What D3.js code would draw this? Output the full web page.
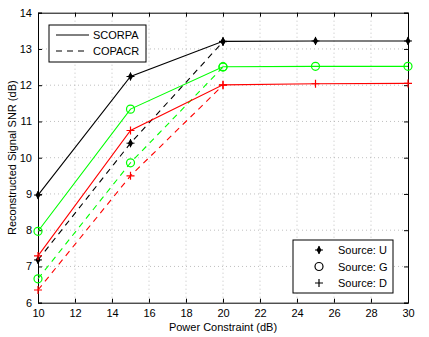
<!DOCTYPE html>
<html>
<head>
	<meta charset="utf-8">
	<title>SNR vs power constraint</title>
	<script type="text/javascript" src="https://cdn.jsdelivr.net/npm/d3@7/dist/d3.min.js"></script>
	<style>
		body { margin: 0; background: #fff; }
		text { font-family: "Liberation Sans", Arial, sans-serif; }
	</style>
</head>
<body>
<script type="text/javascript">
	var power = [10, 15, 20, 25, 30];     // x values (dB)
	var scorpaU = [8.97, 12.24, 13.21, 13.22, 13.22];
	var scorpaG = [7.97, 11.34, 12.51, 12.52, 12.52];
	var scorpaD = [7.29, 10.75, 12.01, 12.04, 12.05];
	var copacrU = [7.18, 10.40, 13.20];
	var copacrG = [6.66, 9.86, 12.50];
	var copacrD = [6.35, 9.50, 12.00];
	var xTicks = [10, 12, 14, 16, 18, 20, 22, 24, 26, 28, 30];
	var yTicks = [6, 7, 8, 9, 10, 11, 12, 13, 14];

	var width = 429, height = 337;
	var pL = 38, pR = 408, pT = 12.7, pB = 302.7;   // plot box

	var svg = d3.select("body").append("svg")
		.attr("width", width)
		.attr("height", height);

	var x = d3.scaleLinear().domain([10, 30]).range([pL, pR]);
	var y = d3.scaleLinear().domain([6, 14]).range([pB, pT]);

	// dotted grid
	svg.append("g").selectAll("line").data(xTicks.slice(1, -1)).enter().append("line")
		.attr("x1", function(d){ return x(d); }).attr("x2", function(d){ return x(d); })
		.attr("y1", pT).attr("y2", pB)
		.attr("stroke", "#b0b0b0").attr("stroke-width", 0.8).attr("stroke-dasharray", "1,3");
	svg.append("g").selectAll("line").data(yTicks.slice(1, -1)).enter().append("line")
		.attr("y1", function(d){ return y(d); }).attr("y2", function(d){ return y(d); })
		.attr("x1", pL).attr("x2", pR)
		.attr("stroke", "#b0b0b0").attr("stroke-width", 0.8).attr("stroke-dasharray", "1,3");

	// axes (ticks inside)
	var xAxis = d3.axisBottom(x).tickValues(xTicks).tickSize(-4).tickPadding(7);
	var yAxis = d3.axisLeft(y).tickValues(yTicks).tickSize(-4).tickPadding(6);
	svg.append("g").attr("transform", "translate(0," + pB + ")").call(xAxis);
	svg.append("g").attr("transform", "translate(" + pL + ",0)").call(yAxis);
	svg.append("g").attr("transform", "translate(0," + pT + ")")
		.call(d3.axisTop(x).tickValues(xTicks).tickSize(-4).tickFormat(""));
	svg.append("g").attr("transform", "translate(" + pR + ",0)")
		.call(d3.axisRight(y).tickValues(yTicks).tickSize(-4).tickFormat(""));
	svg.selectAll(".domain").attr("stroke", "#000");
	svg.selectAll(".tick line").attr("stroke", "#000");
	svg.selectAll(".tick text").attr("font-size", 11).attr("fill", "#000")
		.attr("font-family", "Liberation Sans, Arial, sans-serif");

	svg.append("text").attr("x", (pL + pR) / 2).attr("y", 331)
		.attr("text-anchor", "middle").attr("font-size", 11).text("Power Constraint (dB)");
	svg.append("text").attr("transform", "translate(16," + ((pT + pB) / 2) + ") rotate(-90)")
		.attr("text-anchor", "middle").attr("font-size", 11).text("Reconstructed Signal SNR (dB)");

	var line = d3.line()
		.x(function(d){ return x(d[0]); })
		.y(function(d){ return y(d[1]); });

	function pts(vals){
		return vals.map(function(v, i){ return [power[i], v]; });
	}

	function marker(g, kind, color, cx, cy){
		if (kind == "U") {
			g.append("path").attr("d", d3.symbol(d3.symbolDiamond, 22)())
				.attr("transform", "translate(" + cx + "," + cy + ")").attr("fill", color);
			g.append("path").attr("d", "M" + (cx - 4) + "," + cy + "H" + (cx + 4) + "M" + cx + "," + (cy - 4) + "V" + (cy + 4))
				.attr("stroke", color).attr("stroke-width", 1);
		} else if (kind == "G") {
			g.append("circle").attr("cx", cx).attr("cy", cy).attr("r", 4)
				.attr("fill", "none").attr("stroke", color).attr("stroke-width", 1.2);
		} else {
			g.append("path").attr("d", "M" + (cx - 4) + "," + cy + "H" + (cx + 4) + "M" + cx + "," + (cy - 4) + "V" + (cy + 4))
				.attr("stroke", color).attr("stroke-width", 1.2);
		}
	}

	var series = [
		{ v: copacrU, c: "#000", k: "U", dash: "6,5" },
		{ v: copacrG, c: "#00ff00", k: "G", dash: "6,5" },
		{ v: copacrD, c: "#ff0000", k: "D", dash: "6,5" },
		{ v: scorpaD, c: "#ff0000", k: "D", dash: null },
		{ v: scorpaG, c: "#00ff00", k: "G", dash: null },
		{ v: scorpaU, c: "#000", k: "U", dash: null }
	];

	series.forEach(function(s){
		var g = svg.append("g");
		var p = pts(s.v);
		g.append("path").attr("d", line(p)).attr("fill", "none")
			.attr("stroke", s.c).attr("stroke-width", 1.1)
			.attr("stroke-dasharray", s.dash);
		p.forEach(function(d){ marker(g, s.k, s.c, x(d[0]), y(d[1])); });
	});

	// legend: line styles
	var l1 = svg.append("g");
	l1.append("rect").attr("x", 49).attr("y", 25).attr("width", 97).attr("height", 37)
		.attr("fill", "#fff").attr("stroke", "#000").attr("stroke-width", 1);
	l1.append("line").attr("x1", 56).attr("x2", 89).attr("y1", 35).attr("y2", 35).attr("stroke", "#000");
	l1.append("line").attr("x1", 56).attr("x2", 89).attr("y1", 51).attr("y2", 51).attr("stroke", "#000")
		.attr("stroke-dasharray", "6,5");
	l1.append("text").attr("x", 93).attr("y", 39).attr("font-size", 11).text("SCORPA");
	l1.append("text").attr("x", 93).attr("y", 55).attr("font-size", 11).text("COPACR");

	// legend: markers
	var l2 = svg.append("g");
	l2.append("rect").attr("x", 293).attr("y", 240).attr("width", 100).attr("height", 53)
		.attr("fill", "#fff").attr("stroke", "#000").attr("stroke-width", 1);
	var legItems = ["U", "G", "D"];
	legItems.forEach(function(k, i){
		var cy = 250 + i * 16.5;
		marker(l2, k, "#000", 319, cy);
		l2.append("text").attr("x", 338).attr("y", cy + 4).attr("font-size", 11).text("Source: " + k);
	});
</script>
</body>
</html>
